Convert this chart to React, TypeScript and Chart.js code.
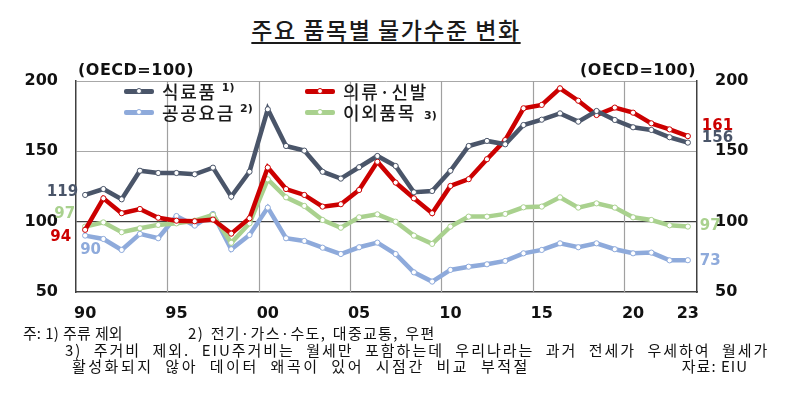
import React, { useEffect, useRef } from 'react';
import { Chart, registerables } from 'chart.js';

Chart.register(...registerables);

const yearLabels = [
  '1990', '1991', '1992', '1993', '1994', '1995', '1996', '1997', '1998', '1999',
  '2000', '2001', '2002', '2003', '2004', '2005', '2006', '2007', '2008', '2009',
  '2010', '2011', '2012', '2013', '2014', '2015', '2016', '2017', '2018', '2019',
  '2020', '2021', '2022', '2023',
];
const shownYears = ['1990', '1995', '2000', '2005', '2010', '2015', '2020', '2023'];
const gridYears = ['1995', '2000', '2005', '2010', '2015', '2020'];

const food = [
  119, 123.2, 115.9, 136.2, 134.6, 134.6, 133.7, 138.4, 117.8, 135.5,
  179.9, 153.8, 150.5, 135.5, 130.6, 138.7, 146.7, 139.6, 120.9, 121.8,
  136.2, 153.8, 157.4, 155, 168.7, 172.5, 177, 171.1, 178.7, 172.3,
  167.1, 165.2, 160, 156.2,
];
const clothing = [
  94.2, 116.6, 106, 109, 102.8, 100.7, 100.3, 101.5, 91.5, 102.4,
  138.5, 123.2, 119, 110.7, 112.4, 122.5, 142.6, 127.8, 116.6, 106,
  125.4, 130.2, 144.4, 158, 180.6, 183, 194.8, 186, 175.8, 181.1,
  177.5, 169.9, 165.6, 160.8,
];
const others = [
  96.5, 99.5, 92.5, 95.3, 97.7, 98.8, 100.7, 104.8, 85, 98.8,
  130.1, 117.3, 111.2, 101.2, 95.7, 103.1, 105.2, 100, 90.1, 84.2,
  96.5, 103.6, 103.6, 105.5, 110.2, 110.7, 117.3, 110, 113, 110,
  103.1, 101.2, 97.4, 96.5,
];
const utilities = [
  90.1, 87.7, 79.9, 91.3, 88.2, 104, 97.2, 105.5, 80.4, 90.5,
  110, 88.2, 86.3, 81.5, 77, 81.8, 85.1, 77, 64, 57.4,
  65.7, 68, 69.7, 72.1, 77.5, 79.9, 84.6, 81.8, 84.6, 80.4,
  77.5, 78, 72.5, 72.6,
];

const yMin = 50;
const yMax = 200;
const yStep = 50;

const seriesNames = ['식료품', '의류·신발', '이외품목', '공공요금'];
const seriesNotes = ['1)', '', '3)', '2)'];
const seriesColors = ['#4a5569', '#cc0000', '#a9d18e', '#8eaadb'];
const seriesData = [food, clothing, others, utilities];

const titleText = '주요 품목별 물가수준 변화';
const unitText = '(OECD=100)';
const noteLines = [
  '주: 1) 주류 제외',
  '2) 전기·가스·수도, 대중교통, 우편',
  '3) 주거비 제외. EIU주거비는 월세만 포함하는데 우리나라는 과거 전세가 우세하여 월세가',
  '활성화되지 않아 데이터 왜곡이 있어 시점간 비교 부적절',
];
const sourceText = '자료: EIU';

// end-value label placement (series index, which end, offsets)
const endLabels = [
  { ds: 0, side: 'start', align: 'right', dx: -7, dy: -3 },
  { ds: 2, side: 'start', align: 'right', dx: -10, dy: -12.5 },
  { ds: 1, side: 'start', align: 'right', dx: -14, dy: 7.5 },
  { ds: 3, side: 'start', align: 'left', dx: -5, dy: 15 },
  { ds: 1, side: 'end', align: 'left', dx: 14, dy: -10.5 },
  { ds: 0, side: 'end', align: 'left', dx: 14, dy: -5 },
  { ds: 2, side: 'end', align: 'left', dx: 12, dy: 0 },
  { ds: 3, side: 'end', align: 'left', dx: 12, dy: 1 },
];

const GRID_COLOR = '#a8a8a8';
const VGRID_COLOR = '#a0a0a0';

const endLabelPlugin = {
  id: 'endLabels',
  afterDatasetsDraw(chart: any) {
    const { ctx } = chart;
    ctx.save();
    ctx.font = 'bold 15px "DejaVu Sans"';
    ctx.textBaseline = 'middle';
    endLabels.forEach((l) => {
      const meta = chart.getDatasetMeta(l.ds);
      const idx = l.side === 'start' ? 0 : meta.data.length - 1;
      const pt = meta.data[idx];
      const v = chart.data.datasets[l.ds].data[idx];
      ctx.fillStyle = seriesColors[l.ds];
      ctx.textAlign = l.align;
      ctx.fillText(String(Math.round(v)), pt.x + l.dx, pt.y + l.dy);
    });
    ctx.restore();
  },
};

// vertical grid lines between categories (year boundaries), from the point positions
const yearGridPlugin = {
  id: 'yearGrid',
  beforeDatasetsDraw(chart: any) {
    const { ctx, chartArea } = chart;
    const pts = chart.getDatasetMeta(0).data;
    ctx.save();
    ctx.strokeStyle = VGRID_COLOR;
    ctx.lineWidth = 1.2;
    gridYears.forEach((y) => {
      const i = yearLabels.indexOf(y);
      if (i < 1 || !pts[i] || !pts[i - 1]) return;
      const x = Math.round((pts[i - 1].x + pts[i].x) / 2) + 0.5;
      ctx.beginPath();
      ctx.moveTo(x, chartArea.top);
      ctx.lineTo(x, chartArea.bottom);
      ctx.stroke();
    });
    ctx.restore();
  },
};

const PLOT_LEFT = 76;
const PLOT_RIGHT = 697;
const PLOT_TOP = 81;
const PLOT_BOTTOM = 292;
const W = 800;
const H = 406;

const tickFont = { family: '"DejaVu Sans"', size: 16, weight: 'bold' as const };
const KFONT = '"Noto Sans CJK KR", "Noto Sans", sans-serif';

function LegendItem({ idx, left, top, textLeft }: { idx: number; left: number; top: number; textLeft: number }) {
  const color = seriesColors[idx];
  return (
    <>
      <div
        style={{
          position: 'absolute', left, top: top - 2.5, width: 30, height: 5,
          background: color, borderRadius: 2,
        }}
      />
      <div
        style={{
          position: 'absolute', left: left + 12, top: top - 3, width: 4, height: 4,
          background: '#fff', borderRadius: '50%', border: `1px solid ${color}`,
        }}
      />
      <div
        style={{
          position: 'absolute', left: textLeft, top: top - 12, height: 24, lineHeight: '24px',
          fontFamily: KFONT, fontSize: 18, fontWeight: 500, letterSpacing: 1.7,
          color: '#1a1a1a', whiteSpace: 'nowrap',
        }}
      >
        {seriesNames[idx]}
        {seriesNotes[idx] ? (
          <span
            style={{
              fontFamily: '"DejaVu Sans"', fontWeight: 'bold', fontSize: 11, letterSpacing: 0,
              marginLeft: idx === 2 ? 8 : 5, position: 'relative', top: idx === 2 ? -1 : -8,
            }}
          >
            {seriesNotes[idx]}
          </span>
        ) : null}
      </div>
    </>
  );
}

const noteStyle = {
  position: 'absolute' as const, fontFamily: KFONT, fontSize: 15, lineHeight: '18px',
  color: '#111', whiteSpace: 'nowrap' as const,
};

export default function App() {
  const canvasRef = useRef<HTMLCanvasElement | null>(null);

  useEffect(() => {
    const canvas = canvasRef.current;
    if (!canvas) return;
    const chart = new Chart(canvas, {
      type: 'line',
      data: {
        labels: yearLabels,
        datasets: seriesData.map((d, i) => ({
          label: seriesNames[i],
          data: d,
          borderColor: seriesColors[i],
          backgroundColor: seriesColors[i],
          borderWidth: 4.5,
          pointRadius: 2.6,
          pointBorderWidth: 1,
          pointBackgroundColor: '#ffffff',
          pointBorderColor: seriesColors[i],
          tension: 0,
          fill: false,
        })),
      },
      options: {
        responsive: false,
        animation: false,
        layout: { padding: { top: PLOT_TOP, left: 0, right: 0, bottom: 0 } },
        plugins: {
          legend: { display: false },
          tooltip: { enabled: false },
          title: { display: false },
        },
        scales: {
          x: {
            type: 'category',
            offset: true,
            grid: { display: false, drawTicks: false },
            border: { display: true, color: '#404040', width: 1.5 },
            ticks: {
              autoSkip: false,
              maxRotation: 0,
              minRotation: 0,
              padding: 12,
              color: '#111',
              font: tickFont,
              callback: (_v: any, i: number) =>
                shownYears.includes(yearLabels[i]) ? yearLabels[i].slice(2) : '',
            },
            afterFit: (s: any) => { s.height = H - PLOT_BOTTOM; },
          },
          y: {
            position: 'left',
            min: yMin,
            max: yMax,
            grid: {
              drawTicks: false,
              color: (c: any) => {
                const v = c.tick && c.tick.value;
                if (v === 100) return '#404040';
                if (v === yMin) return 'rgba(0,0,0,0)';
                return GRID_COLOR;
              },
              lineWidth: (c: any) => (c.tick && c.tick.value === 100 ? 1.2 : 1),
            },
            border: { display: true, color: '#404040', width: 1.5 },
            ticks: { stepSize: yStep, padding: 18, color: '#111', font: tickFont },
            afterFit: (s: any) => { s.width = PLOT_LEFT; },
          },
          y2: {
            position: 'right',
            min: yMin,
            max: yMax,
            grid: { drawOnChartArea: false, drawTicks: false },
            border: { display: true, color: '#404040', width: 1.5 },
            ticks: { stepSize: yStep, padding: 18, color: '#111', font: tickFont },
            afterFit: (s: any) => { s.width = W - PLOT_RIGHT; },
          },
        },
      } as any,
      plugins: [yearGridPlugin as any, endLabelPlugin as any],
    });
    return () => chart.destroy();
  }, []);

  return (
    <div style={{ position: 'absolute', left: 0, top: 0, width: W, height: H, background: '#fff', overflow: 'hidden' }}>
      <div
        style={{
          position: 'absolute', left: 0, top: 15, width: 772, textAlign: 'center',
          fontFamily: KFONT, fontSize: 23, fontWeight: 500, lineHeight: '28px', color: '#1a1a1a',
          letterSpacing: 1.5,
        }}
      >
        <span style={{ textDecoration: 'underline', textUnderlineOffset: 3, textDecorationThickness: 1.5 }}>
          {titleText}
        </span>
      </div>
      <canvas ref={canvasRef} width={W} height={H} style={{ position: 'absolute', left: 0, top: 0 }} />
      <div
        style={{
          position: 'absolute', left: 78, top: 61, fontFamily: '"DejaVu Sans"', fontWeight: 'bold',
          fontSize: 16, lineHeight: '18px', color: '#111', letterSpacing: 0.5,
        }}
      >
        {unitText}
      </div>
      <div
        style={{
          position: 'absolute', right: W - 696, top: 61, fontFamily: '"DejaVu Sans"', fontWeight: 'bold',
          fontSize: 16, lineHeight: '18px', color: '#111', letterSpacing: 0.5,
        }}
      >
        {unitText}
      </div>
      <LegendItem idx={0} left={124} top={91} textLeft={162} />
      <LegendItem idx={3} left={124} top={112} textLeft={162} />
      <LegendItem idx={1} left={305} top={91} textLeft={343} />
      <LegendItem idx={2} left={305} top={112} textLeft={343} />
      <div style={{ ...noteStyle, left: 23, top: 324, letterSpacing: 0, wordSpacing: 1 }}>
        {noteLines[0]}
      </div>
      <div style={{ ...noteStyle, left: 188, top: 324, letterSpacing: 1.3, wordSpacing: 2 }}>
        {noteLines[1]}
      </div>
      <div style={{ ...noteStyle, left: 65, top: 341, letterSpacing: 2.0, wordSpacing: 6 }}>
        {noteLines[2]}
      </div>
      <div style={{ ...noteStyle, left: 72, top: 357, letterSpacing: 2.5, wordSpacing: 6 }}>
        {noteLines[3]}
      </div>
      <div style={{ ...noteStyle, right: W - 748, top: 357, letterSpacing: 1 }}>
        {sourceText}
      </div>
    </div>
  );
}
